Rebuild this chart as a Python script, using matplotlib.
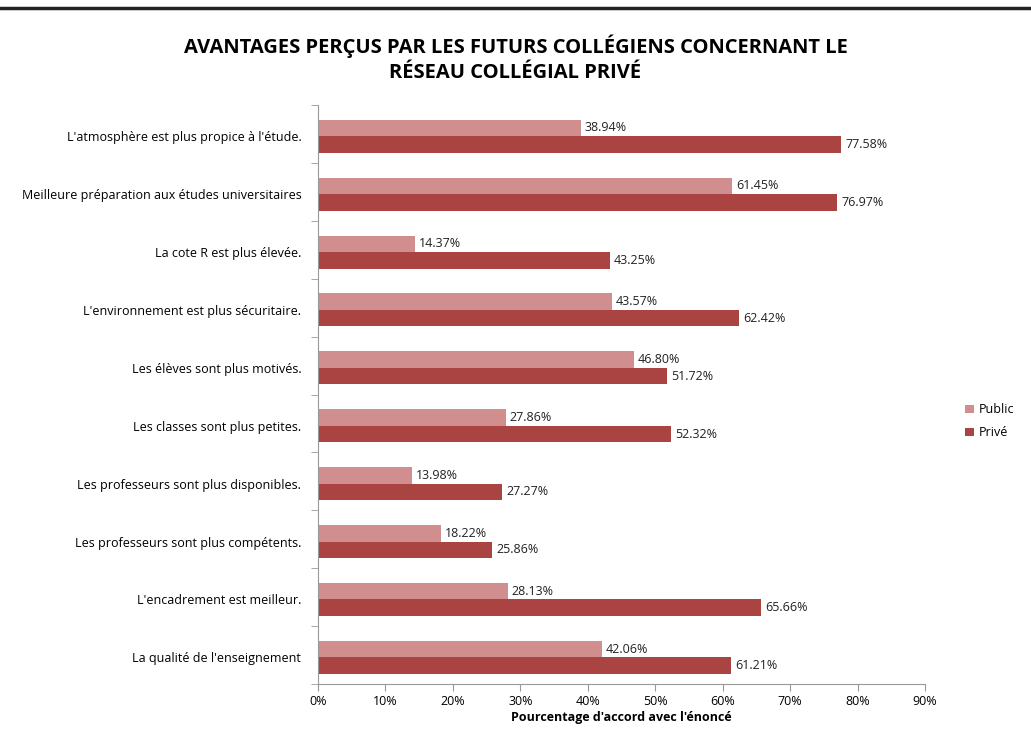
import numpy as np
import matplotlib.pyplot as plt

categories = [
    "L'atmosphère est plus propice à l'étude.",
    "Meilleure préparation aux études universitaires",
    "La cote R est plus élevée.",
    "L'environnement est plus sécuritaire.",
    "Les élèves sont plus motivés.",
    "Les classes sont plus petites.",
    "Les professeurs sont plus disponibles.",
    "Les professeurs sont plus compétents.",
    "L'encadrement est meilleur.",
    "La qualité de l'enseignement",
]
public = [38.94, 61.45, 14.37, 43.57, 46.80, 27.86, 13.98, 18.22, 28.13, 42.06]
prive = [77.58, 76.97, 43.25, 62.42, 51.72, 52.32, 27.27, 25.86, 65.66, 61.21]
xticks = [0, 10, 20, 30, 40, 50, 60, 70, 80, 90]

plt.rcParams['font.family'] = ['Open Sans', 'DejaVu Sans']

fig = plt.figure(figsize=(10.31, 7.33), dpi=100)
ax = fig.add_axes([0.3084, 0.0668, 0.5888, 0.79])

c_pub = '#d08e8e'
c_pri = '#a94442'
y = np.arange(len(categories)) + 0.04
h = 0.285

ax.barh(y - h/2, public, height=h, color=c_pub, label='Public')
ax.barh(y + h/2, prive, height=h, color=c_pri, label='Privé')

for i in range(len(categories)):
    ax.text(public[i] + 0.6, y[i] - h/2, f"{public[i]:.2f}%", va='center', ha='left', fontsize=9, color='#222222')
    ax.text(prive[i] + 0.6, y[i] + h/2, f"{prive[i]:.2f}%", va='center', ha='left', fontsize=9, color='#222222')

ax.set_ylim(len(categories) - 0.5, -0.5)
ax.set_xlim(0, 90)
ax.set_xticks(xticks)
ax.set_xticklabels([f"{v}%" for v in xticks], fontsize=9)
ax.set_yticks(y)
ax.set_yticklabels(categories, fontsize=9)
ax.tick_params(axis='y', length=0, pad=12)
ax.set_yticks(np.arange(-0.5, len(categories)), minor=True)
ax.tick_params(axis='y', which='minor', length=5, color='#999999', direction='out')
ax.tick_params(axis='x', length=5, color='#999999', pad=3)

for s in ['top', 'right']:
    ax.spines[s].set_visible(False)
ax.spines['left'].set_color('#999999')
ax.spines['bottom'].set_color('#999999')

ax.set_xlabel("Pourcentage d'accord avec l'énoncé", fontsize=9, fontweight='bold', labelpad=2)

fig.text(0.5, 0.92, "AVANTAGES PERÇUS PAR LES FUTURS COLLÉGIENS CONCERNANT LE\nRÉSEAU COLLÉGIAL PRIVÉ",
         ha='center', va='center', fontsize=14.5, fontweight='bold', linespacing=1.35)

fig.legend(loc='center left', bbox_to_anchor=(0.925, 0.425), frameon=False, fontsize=9,
           handlelength=0.7, handleheight=0.7, handletextpad=0.4, labelspacing=0.8)

# trait en haut de la page
fig.add_artist(plt.Line2D([0, 1], [0.989, 0.989], color='#222222', lw=2.5))

fig.savefig('out.png', dpi=100)
